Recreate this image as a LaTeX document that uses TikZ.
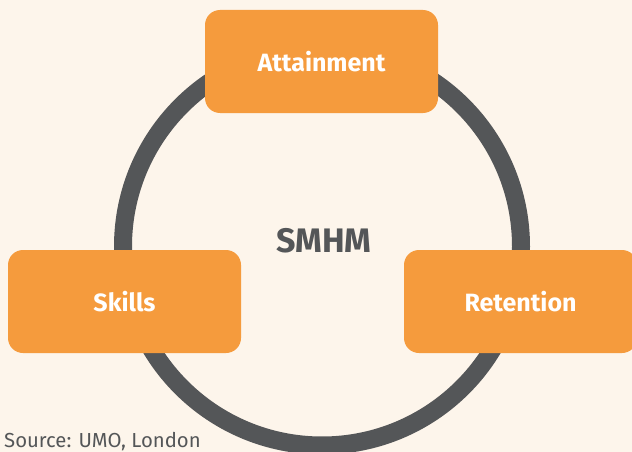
\documentclass[tikz,border=0pt]{standalone}
\usepackage{fontspec}
\setmainfont{Fira Sans}
\definecolor{bgc}{HTML}{FDF5EB}
\definecolor{orangec}{HTML}{F59B3D}
\definecolor{grayc}{HTML}{545658}
\tikzset{
  box/.style={fill=orangec, rounded corners=15pt, minimum width=233pt, minimum height=103pt, inner sep=0pt, text=white, font=\fontsize{25}{30}\selectfont\bfseries},
  ring/.style={draw=grayc, line width=18pt},
}
\begin{document}
\begin{tikzpicture}[x=1pt,y=-1pt]
\fill[bgc] (0,0) rectangle (632,452);
\useasboundingbox (0,0) rectangle (632,452);
\coordinate (c) at (322,246.5);
\draw[ring] (c) circle (199);
\node[box] (att) at (321.5,61.5) {Attainment};
\node[box] (ski) at (124.5,301.5) {Skills};
\node[box] (ret) at (520.5,301.5) {Retention};
\node[text=grayc, font=\fontsize{34}{40}\selectfont\bfseries] (smhm) at (324,240.5) {SMHM};
\node[text=grayc, anchor=base west, inner sep=0pt, font=\fontsize{20.3}{25}\selectfont] (src) at (4,447) {Source: UMO, London};
\end{tikzpicture}
\end{document}
